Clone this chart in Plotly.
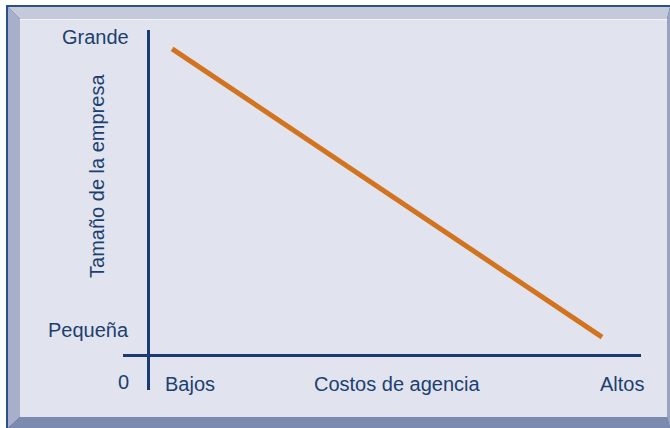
import plotly.graph_objects as go

# --- data (arbitrary 0-10 scale on both axes) ---
costos = [0.49, 9.21]          # x: agency costs
tamano = [9.42, 0.55]          # y: firm size

y_tick_vals = [9.77, 0.77]
y_tick_text = ["Grande", "Pequeña"]
x_tick_vals = [0.30, 5.07, 9.61]
x_tick_text = ["Bajos", "Costos de agencia", "Altos"]
x_tick_anchor = ["left", "center", "center"]
origin_label = "0"
y_title = "Tamaño de la empresa"

W, H = 670, 428
L, R, T, B = 123, 29, 30, 38
PW, PH = W - L - R, H - T - B

def px(x):
    return (x - L) / PW

def py(y):
    return 1 - (y - T) / PH

TEXT = "#1d3f6e"
AXIS = "#1b3b70"
ORANGE = "#d2731f"
FONT = "Liberation Sans, Arial, sans-serif"
FS = 20

fig = go.Figure()
fig.add_trace(go.Scatter(
    x=costos, y=tamano, mode="lines",
    line=dict(color=ORANGE, width=5), hoverinfo="skip", showlegend=False,
))

def poly(pts, color):
    d = "M " + " L ".join(f"{px(a)},{py(b)}" for a, b in pts) + " Z"
    return dict(type="path", xref="paper", yref="paper", path=d,
                fillcolor=color, line=dict(width=0), layer="below")

shapes = [
    poly([(6, 5), (670, 5), (670, 428), (6, 428)], "#2a5189"),
    poly([(8, 7), (670, 7), (667, 19), (20, 19)], "#c4c9dc"),
    poly([(8, 7), (20, 19), (20, 417), (8, 428)], "#a7afcb"),
    poly([(8, 428), (20, 417), (667, 417), (670, 428)], "#7c8ab0"),
    poly([(667, 19), (670, 7), (670, 428), (667, 417)], "#9aa3c0"),
    poly([(20, 19), (667, 19), (667, 417), (20, 417)], "#e1e4ee"),
    poly([(20, 19), (667, 19), (667, 20), (20, 20)], "#f4f5f9"),
]

annotations = []
for v, t in zip(y_tick_vals, y_tick_text):
    annotations.append(dict(x=-0.34, y=v, xref="x", yref="y", text=t,
                            showarrow=False, xanchor="right", yanchor="middle",
                            font=dict(family=FONT, size=FS, color=TEXT)))
for v, t, a in zip(x_tick_vals, x_tick_text, x_tick_anchor):
    annotations.append(dict(x=v, y=-0.89, xref="x", yref="y", text=t,
                            showarrow=False, xanchor=a, yanchor="middle",
                            font=dict(family=FONT, size=FS, color=TEXT)))
annotations.append(dict(x=-0.34, y=-0.83, xref="x", yref="y", text=origin_label,
                        showarrow=False, xanchor="right", yanchor="middle",
                        font=dict(family=FONT, size=FS, color=TEXT)))
annotations.append(dict(x=px(97), y=5.51, xref="paper", yref="y", text=y_title,
                        showarrow=False, textangle=-90, xanchor="center", yanchor="middle",
                        font=dict(family=FONT, size=FS, color=TEXT)))

fig.update_layout(
    width=W, height=H,
    margin=dict(l=L, r=R, t=T, b=B, pad=0),
    paper_bgcolor="white", plot_bgcolor="rgba(0,0,0,0)",
    shapes=shapes, annotations=annotations,
    xaxis=dict(range=[-0.507, 10], showgrid=False, showticklabels=False, ticks="",
               zeroline=True, zerolinecolor=AXIS, zerolinewidth=3, showline=False,
               fixedrange=True),
    yaxis=dict(range=[-1.077, 10], showgrid=False, showticklabels=False, ticks="",
               zeroline=True, zerolinecolor=AXIS, zerolinewidth=3, showline=False,
               fixedrange=True),
    showlegend=False,
)

fig.write_html("out.html", config={"displayModeBar": False},
               post_script="document.body.style.margin='0';document.body.style.overflow='hidden';")
